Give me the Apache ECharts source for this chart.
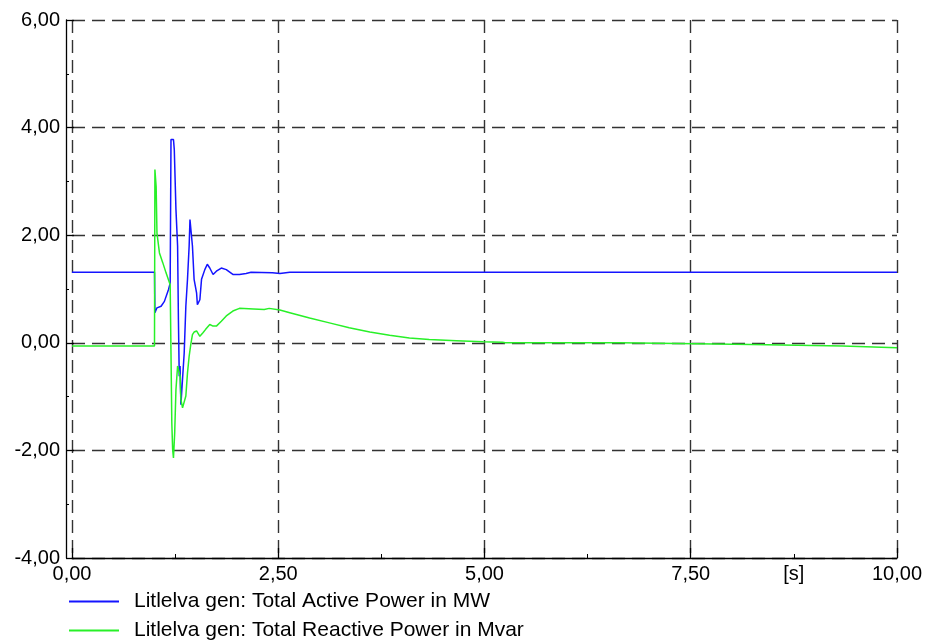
<!DOCTYPE html>
<html>
<head>
<meta charset="utf-8">
<script src="https://cdn.jsdelivr.net/npm/echarts@6/dist/echarts.min.js"></script>
<style>html,body{margin:0;padding:0;background:#fff;}#c{width:925px;height:642px;}</style>
</head>
<body>
<div id="c"></div>
<script>
const seriesNames = ['Litlelva gen: Total Active Power in MW', 'Litlelva gen: Total Reactive Power in Mvar'];
const xTicks = [0, 2.5, 5, 7.5, 10];
const xUnitLabel = '[s]';
const yTicks = [-4, -2, 0, 2, 4, 6];

const timeActive = [0, 1.0, 1.005, 1.03, 1.08, 1.12, 1.17, 1.19, 1.20, 1.21, 1.23, 1.24, 1.26, 1.28, 1.29, 1.30, 1.31, 1.32, 1.34, 1.36, 1.38, 1.40, 1.42, 1.43, 1.45, 1.46, 1.48, 1.51, 1.52, 1.55, 1.57, 1.61, 1.64, 1.67, 1.71, 1.75, 1.81, 1.87, 1.95, 2.03, 2.11, 2.17, 2.43, 2.52, 2.64, 10];
const activePower = [1.31, 1.31, 0.56, 0.65, 0.68, 0.77, 0.99, 1.11, 3.78, 3.81, 3.78, 3.59, 2.48, 1.80, 0.43, -0.62, -0.43, -1.15, -1.18, -0.19, 0.68, 1.18, 1.80, 2.29, 2.26, 1.80, 1.18, 0.93, 0.71, 0.80, 1.18, 1.36, 1.46, 1.39, 1.27, 1.33, 1.39, 1.36, 1.27, 1.27, 1.29, 1.31, 1.30, 1.29, 1.31, 1.31];

const timeReactive = [0, 1.0, 1.005, 1.02, 1.03, 1.06, 1.10, 1.14, 1.19, 1.20, 1.21, 1.22, 1.23, 1.245, 1.26, 1.28, 1.30, 1.31, 1.32, 1.34, 1.36, 1.38, 1.40, 1.42, 1.44, 1.46, 1.48, 1.51, 1.55, 1.59, 1.62, 1.67, 1.71, 1.75, 1.81, 1.87, 1.95, 2.03, 2.20, 2.33, 2.39, 2.52, 2.64, 2.88, 3.12, 3.36, 3.61, 3.85, 4.09, 4.33, 4.66, 4.98, 5.22, 5.25, 6.64, 6.65, 8.24, 8.25, 9.34, 9.35, 10];
const reactivePower = [-0.06, -0.06, 3.22, 2.90, 2.04, 1.67, 1.49, 1.30, 1.08, -0.20, -1.50, -1.98, -2.14, -1.67, -0.87, -0.43, -0.41, -0.62, -1.05, -1.21, -1.18, -0.99, -0.56, -0.25, -0.03, 0.15, 0.20, 0.22, 0.12, 0.19, 0.25, 0.34, 0.31, 0.31, 0.40, 0.50, 0.59, 0.64, 0.63, 0.62, 0.64, 0.61, 0.56, 0.46, 0.37, 0.28, 0.20, 0.14, 0.09, 0.06, 0.04, 0.02, 0.01, 0.00, 0.00, -0.03, -0.03, -0.06, -0.06, -0.09, -0.09];

const fmt = v => v.toFixed(2).replace('.', ',');
const pair = (ts, vs) => ts.map((t, i) => [t, vs[i]]);
const FONT = '"Liberation Sans", Arial, sans-serif';
const dashed = {show: true, lineStyle: {color: '#333', width: 1.4, type: [13, 7]}};
const legendBase = {
  orient: 'horizontal', left: 64, itemWidth: 50, itemHeight: 2, icon: 'rect',
  textStyle: {color: '#000', fontFamily: FONT, fontSize: 21, padding: [0, 0, 0, 10]}
};

const chart = echarts.init(document.getElementById('c'), null, {renderer: 'canvas'});
chart.setOption({
  animation: false,
  backgroundColor: '#fff',
  grid: {left: 72, right: 28, top: 20, bottom: 84, containLabel: false},
  xAxis: [{
    type: 'value', min: xTicks[0], max: xTicks[xTicks.length - 1], interval: xTicks[1] - xTicks[0],
    axisLine: {show: true, onZero: false, lineStyle: {color: '#000', width: 1.3}},
    axisTick: {show: true, inside: true, length: 10, lineStyle: {color: '#000', width: 1.3}},
    minorTick: {show: true, splitNumber: 2, length: 4, lineStyle: {color: '#000', width: 1}},
    splitLine: dashed,
    axisLabel: {formatter: fmt, color: '#000', fontFamily: FONT, fontSize: 20, margin: 6, showMaxLabel: true}
  }, {
    type: 'value', gridIndex: 0, position: 'bottom', min: 0, max: 10, interval: 1.25,
    axisLine: {show: false}, axisTick: {show: false}, splitLine: {show: false},
    axisLabel: {formatter: v => (Math.abs(v - 8.75) < 1e-6 ? xUnitLabel : ''), color: '#000', fontFamily: FONT, fontSize: 20, margin: 6}
  }],
  yAxis: {
    type: 'value', min: yTicks[0], max: yTicks[yTicks.length - 1], interval: yTicks[1] - yTicks[0],
    offset: 6,
    axisLine: {show: true, onZero: false, lineStyle: {color: '#000', width: 1.3}},
    axisTick: {show: true, inside: true, length: 8, lineStyle: {color: '#000', width: 1.3}},
    minorTick: {show: true, splitNumber: 2, length: 3, lineStyle: {color: '#000', width: 1}},
    splitLine: dashed,
    axisLabel: {formatter: fmt, color: '#000', fontFamily: FONT, fontSize: 20, margin: 6}
  },
  legend: [
    Object.assign({}, legendBase, {top: 586, data: [seriesNames[0]]}),
    Object.assign({}, legendBase, {top: 615, data: [seriesNames[1]]})
  ],
  series: [{
    name: seriesNames[0], type: 'line', showSymbol: false, symbol: 'none',
    color: 'rgb(20,20,255)', lineStyle: {width: 1.5}, data: pair(timeActive, activePower)
  }, {
    name: seriesNames[1], type: 'line', showSymbol: false, symbol: 'none',
    color: 'rgb(40,240,40)', lineStyle: {width: 1.5}, data: pair(timeReactive, reactivePower)
  }]
});
</script>
</body>
</html>
